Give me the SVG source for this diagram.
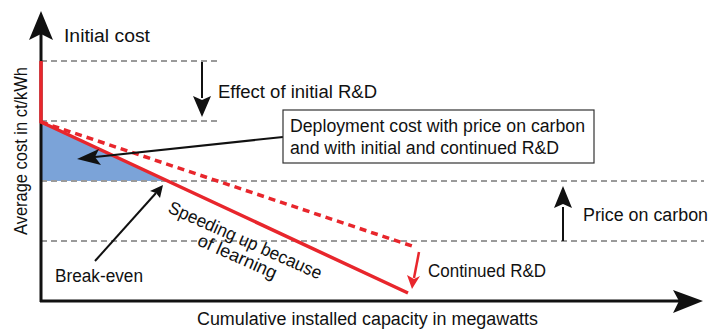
<svg xmlns="http://www.w3.org/2000/svg" width="712" height="329" viewBox="0 0 712 329">
<style>
text{font-family:"Liberation Sans",Arial,sans-serif;font-size:18px;fill:#111}
.grid{stroke:#9a9a9a;stroke-width:2;stroke-dasharray:6 4;fill:none}
.red{stroke:#e8262c;stroke-width:3.5;fill:none}
.blk{stroke:#111;stroke-width:2;fill:none}
</style>
<g id="fill-area"><polygon points="41,122 41,181 167,181" fill="#7ba3d8"/></g>
<g id="gridlines">
<line class="grid" x1="41" y1="61" x2="218" y2="61"/>
<line class="grid" x1="41" y1="121" x2="218" y2="121"/>
<line class="grid" x1="41" y1="181" x2="704" y2="181"/>
<line class="grid" x1="41" y1="241" x2="704" y2="241"/>
</g>
<g id="axes">
<line x1="41" y1="302" x2="41" y2="30" stroke="#111" stroke-width="3"/>
<path d="M41,11 L53,40 L41,34 L29,40 z" fill="#111"/>
<line x1="40" y1="301" x2="685" y2="301" stroke="#111" stroke-width="3"/>
<path d="M703,301 L673,290 L679,301 L673,313 z" fill="#111"/>
</g>
<g id="curves">
<polyline class="red" points="41,61 41,122 408,293"/>
<line class="red" x1="41" y1="122" x2="415" y2="247" stroke-dasharray="7 5"/>
<line x1="419" y1="252" x2="414" y2="278" stroke="#e8262c" stroke-width="2.5"/>
<path d="M412,289 L407,275 L414,279 L420,276 z" fill="#e8262c"/>
</g>
<g id="connectors">
<line class="blk" x1="202" y1="62" x2="202" y2="98"/>
<path d="M202,117 L193,96 L202,100 L211,96 z" fill="#111"/>
<line class="blk" x1="563" y1="241" x2="563" y2="207"/>
<path d="M563,186 L554,208 L563,204 L572,208 z" fill="#111"/>
<line class="blk" x1="283" y1="137" x2="95" y2="157"/>
<path d="M77,159 L99,149 L95,157 L101,165 z" fill="#111"/>
<line class="blk" x1="95" y1="261" x2="156" y2="193"/>
<path d="M163,185 L160,198 L156,193 L150,191 z" fill="#111"/>
</g>
<g id="labels">
<text x="64" y="42" textLength="86" lengthAdjust="spacingAndGlyphs">Initial cost</text>
<text x="218" y="98" textLength="159" lengthAdjust="spacingAndGlyphs">Effect of initial R&amp;D</text>
<text x="583" y="221" textLength="125" lengthAdjust="spacingAndGlyphs">Price on carbon</text>
<text x="428" y="277" textLength="118" lengthAdjust="spacingAndGlyphs">Continued R&amp;D</text>
<text x="55" y="282" textLength="88" lengthAdjust="spacingAndGlyphs">Break-even</text>
<text x="197" y="325" textLength="341" lengthAdjust="spacingAndGlyphs">Cumulative installed capacity in megawatts</text>
<text transform="translate(27,151) rotate(-90)" text-anchor="middle" textLength="168" lengthAdjust="spacingAndGlyphs">Average cost in ct/kWh</text>
<g transform="translate(167,212) rotate(24)">
<text x="0" y="0" textLength="166" lengthAdjust="spacingAndGlyphs">Speeding up because</text>
<text x="40" y="18" textLength="85" lengthAdjust="spacingAndGlyphs">of learning</text>
</g>
</g>
<g id="callout">
<rect x="283" y="110" width="311" height="53" fill="#fff" stroke="#333" stroke-width="1.2"/>
<text x="290" y="132" textLength="295" lengthAdjust="spacingAndGlyphs">Deployment cost with price on carbon</text>
<text x="290" y="154" textLength="269" lengthAdjust="spacingAndGlyphs">and with initial and continued R&amp;D</text>
</g>
</svg>
